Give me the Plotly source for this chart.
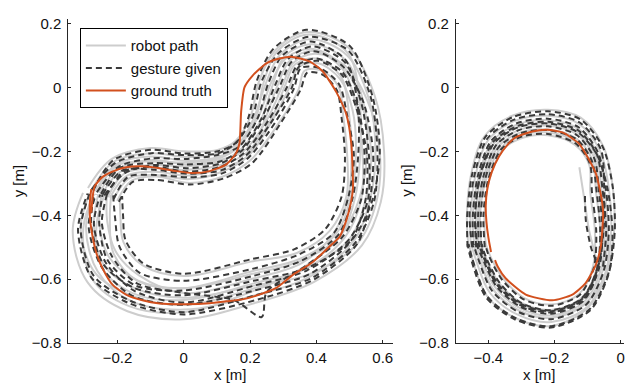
import plotly.graph_objects as go

# ---------------- data ----------------
# Left panel: ground truth path
GT_LEFT_X = [-0.279, -0.269, -0.245, -0.219, -0.174, -0.125, -0.073, -0.023, 0.026, 0.078, 0.128, 0.158, 0.168,
             0.173, 0.183, 0.207, 0.249, 0.289, 0.328, 0.379, 0.418, 0.460, 0.490, 0.505, 0.510, 0.505, 0.490,
             0.470, 0.440, 0.388, 0.328, 0.279, 0.228, 0.177, 0.128, 0.078, 0.007, -0.073, -0.125, -0.174,
             -0.215, -0.245, -0.264, -0.275, -0.283, -0.283, -0.279]
GT_LEFT_Y = [-0.392, -0.310, -0.280, -0.265, -0.250, -0.247, -0.253, -0.262, -0.268, -0.262, -0.241, -0.205,
             -0.175, -0.075, 0.000, 0.036, 0.075, 0.090, 0.095, 0.081, 0.051, -0.015, -0.084, -0.175, -0.316,
             -0.355, -0.416, -0.467, -0.497, -0.547, -0.587, -0.627, -0.648, -0.663, -0.669, -0.675, -0.678,
             -0.676, -0.666, -0.648, -0.617, -0.566, -0.517, -0.467, -0.407, -0.355, -0.318]

# Left panel: robot paths
ROBOT_LEFT_X = [
    [-0.201, -0.157, -0.083, 0.018, 0.118, 0.201, 0.289, 0.346, 0.364, 0.413, 0.466, 0.481, 0.493, 0.490, 0.440, 0.341, 0.202, 0.000, -0.125, -0.182, -0.191, -0.193],
    [-0.223, -0.171, -0.086, 0.014, 0.113, 0.192, 0.267, 0.318, 0.347, 0.405, 0.472, 0.509, 0.519, 0.503, 0.459, 0.351, 0.206, 0.000, -0.140, -0.212, -0.223, -0.219],
    [-0.245, -0.185, -0.090, 0.009, 0.109, 0.174, 0.234, 0.269, 0.303, 0.385, 0.488, 0.542, 0.552, 0.529, 0.472, 0.355, 0.207, 0.000, -0.140, -0.224, -0.255, -0.245],
    [-0.267, -0.203, -0.095, 0.006, 0.106, 0.165, 0.212, 0.248, 0.292, 0.380, 0.492, 0.558, 0.578, 0.561, 0.511, 0.383, 0.216, 0.000, -0.160, -0.260, -0.295, -0.271],
    [-0.289, -0.217, -0.100, 0.001, 0.102, 0.156, 0.201, 0.227, 0.276, 0.373, 0.498, 0.575, 0.604, 0.594, 0.537, 0.393, 0.219, 0.000, -0.170, -0.290, -0.335, -0.304],
    [-0.256, -0.192, -0.093, 0.008, 0.108, 0.180, 0.251, 0.297, 0.330, 0.395, 0.484, 0.553, 0.591, 0.581, 0.524, 0.379, 0.212, 0.000, -0.148, -0.242, -0.271, -0.258],
    [-0.229, -0.178, -0.088, 0.011, 0.111, 0.186, 0.262, 0.304, 0.336, 0.400, 0.474, 0.498, 0.506, 0.496, 0.453, 0.358, 0.209, 0.000, -0.135, -0.206, -0.231, -0.232],
    [-0.278, -0.210, -0.097, 0.004, 0.104, 0.162, 0.223, 0.262, 0.309, 0.390, 0.482, 0.536, 0.565, 0.548, 0.498, 0.369, 0.213, 0.000, -0.155, -0.266, -0.311, -0.284],
    [-0.212, -0.164, -0.084, 0.016, 0.115, 0.192, 0.245, 0.283, 0.320, 0.393, 0.480, 0.520, 0.539, 0.535, 0.485, 0.369, 0.211, 0.000, -0.153, -0.248, -0.263, -0.239],
    [-0.262, -0.199, -0.092, 0.007, 0.107, 0.168, 0.218, 0.241, 0.281, 0.375, 0.494, 0.531, 0.532, 0.516, 0.472, 0.365, 0.214, 0.000, -0.165, -0.278, -0.303, -0.271],
]
ROBOT_LEFT_Y = [
    [-0.355, -0.292, -0.279, -0.299, -0.279, -0.228, -0.108, -0.007, 0.052, 0.053, 0.003, -0.092, -0.218, -0.343, -0.449, -0.518, -0.545, -0.590, -0.556, -0.484, -0.405, -0.339],
    [-0.345, -0.276, -0.264, -0.276, -0.253, -0.216, -0.104, -0.001, 0.064, 0.075, 0.025, -0.072, -0.214, -0.345, -0.458, -0.536, -0.575, -0.628, -0.604, -0.519, -0.415, -0.337],
    [-0.335, -0.260, -0.243, -0.247, -0.232, -0.192, -0.098, 0.010, 0.096, 0.135, 0.085, -0.048, -0.209, -0.349, -0.464, -0.542, -0.583, -0.628, -0.604, -0.533, -0.425, -0.335],
    [-0.325, -0.240, -0.216, -0.230, -0.217, -0.180, -0.094, 0.014, 0.104, 0.150, 0.100, -0.036, -0.205, -0.354, -0.482, -0.590, -0.650, -0.695, -0.668, -0.575, -0.438, -0.333],
    [-0.315, -0.224, -0.190, -0.200, -0.196, -0.168, -0.092, 0.019, 0.116, 0.173, 0.123, -0.024, -0.201, -0.359, -0.494, -0.608, -0.673, -0.725, -0.700, -0.610, -0.450, -0.330],
    [-0.330, -0.252, -0.227, -0.241, -0.227, -0.200, -0.101, 0.004, 0.076, 0.105, 0.070, -0.040, -0.203, -0.357, -0.488, -0.584, -0.620, -0.658, -0.628, -0.554, -0.430, -0.334],
    [-0.343, -0.268, -0.253, -0.258, -0.243, -0.208, -0.103, 0.002, 0.072, 0.090, 0.033, -0.080, -0.216, -0.344, -0.455, -0.548, -0.598, -0.643, -0.588, -0.512, -0.418, -0.336],
    [-0.320, -0.232, -0.206, -0.218, -0.206, -0.176, -0.096, 0.011, 0.092, 0.120, 0.063, -0.052, -0.207, -0.352, -0.476, -0.566, -0.628, -0.680, -0.652, -0.582, -0.443, -0.332],
    [-0.350, -0.284, -0.274, -0.287, -0.264, -0.216, -0.100, 0.007, 0.084, 0.113, 0.055, -0.064, -0.211, -0.350, -0.470, -0.566, -0.613, -0.665, -0.644, -0.561, -0.428, -0.336],
    [-0.328, -0.244, -0.232, -0.235, -0.222, -0.184, -0.095, 0.016, 0.112, 0.165, 0.108, -0.056, -0.212, -0.347, -0.464, -0.560, -0.635, -0.703, -0.684, -0.596, -0.440, -0.333],
]

# Left panel: gesture given
GESTURE_LEFT_X = [
    [-0.196, -0.154, -0.081, 0.019, 0.120, 0.207, 0.294, 0.352, 0.372, 0.418, 0.462, 0.476, 0.486, 0.476, 0.427, 0.334, 0.201, 0.000, -0.123, -0.176, -0.183, -0.186],
    [-0.212, -0.168, -0.084, 0.015, 0.116, 0.195, 0.278, 0.332, 0.353, 0.410, 0.468, 0.492, 0.513, 0.496, 0.453, 0.344, 0.205, 0.000, -0.133, -0.194, -0.207, -0.213],
    [-0.234, -0.182, -0.089, 0.012, 0.112, 0.183, 0.256, 0.311, 0.342, 0.400, 0.478, 0.525, 0.545, 0.535, 0.479, 0.365, 0.250, 0.235, 0.150, 0.000, -0.143, -0.218, -0.247, -0.232],
    [-0.250, -0.192, -0.091, 0.008, 0.109, 0.174, 0.234, 0.276, 0.314, 0.388, 0.486, 0.536, 0.558, 0.555, 0.498, 0.372, 0.212, 0.000, -0.150, -0.236, -0.271, -0.252],
    [-0.278, -0.206, -0.097, 0.003, 0.104, 0.159, 0.207, 0.234, 0.287, 0.378, 0.496, 0.564, 0.584, 0.574, 0.518, 0.386, 0.216, 0.000, -0.160, -0.272, -0.311, -0.284],
    [-0.245, -0.185, -0.087, 0.013, 0.114, 0.189, 0.267, 0.325, 0.347, 0.403, 0.476, 0.520, 0.552, 0.548, 0.505, 0.379, 0.214, 0.000, -0.155, -0.248, -0.287, -0.265],
    [-0.273, -0.213, -0.099, 0.002, 0.103, 0.159, 0.196, 0.220, 0.270, 0.370, 0.500, 0.569, 0.591, 0.568, 0.505, 0.369, 0.210, 0.000, -0.148, -0.242, -0.279, -0.271],
    [-0.262, -0.196, -0.094, 0.005, 0.105, 0.168, 0.223, 0.255, 0.298, 0.383, 0.488, 0.525, 0.526, 0.509, 0.466, 0.355, 0.208, 0.000, -0.145, -0.230, -0.255, -0.245],
    [-0.240, -0.178, -0.090, 0.010, 0.110, 0.177, 0.240, 0.290, 0.325, 0.393, 0.482, 0.542, 0.571, 0.561, 0.524, 0.390, 0.218, 0.000, -0.163, -0.278, -0.319, -0.290],
]
GESTURE_LEFT_Y = [
    [-0.358, -0.296, -0.290, -0.304, -0.285, -0.236, -0.109, -0.008, 0.046, 0.040, -0.010, -0.096, -0.221, -0.341, -0.443, -0.506, -0.538, -0.583, -0.550, -0.477, -0.403, -0.340],
    [-0.350, -0.280, -0.274, -0.281, -0.269, -0.220, -0.106, -0.004, 0.060, 0.060, 0.010, -0.084, -0.215, -0.344, -0.455, -0.524, -0.568, -0.605, -0.580, -0.498, -0.410, -0.338],
    [-0.340, -0.264, -0.248, -0.264, -0.248, -0.204, -0.102, 0.000, 0.068, 0.090, 0.048, -0.060, -0.210, -0.350, -0.467, -0.560, -0.640, -0.718, -0.665, -0.643, -0.612, -0.526, -0.423, -0.336],
    [-0.333, -0.252, -0.237, -0.241, -0.232, -0.192, -0.098, 0.008, 0.088, 0.128, 0.078, -0.052, -0.208, -0.353, -0.476, -0.572, -0.620, -0.673, -0.636, -0.547, -0.430, -0.335],
    [-0.320, -0.236, -0.206, -0.212, -0.206, -0.172, -0.093, 0.017, 0.108, 0.158, 0.115, -0.032, -0.204, -0.356, -0.485, -0.596, -0.650, -0.703, -0.668, -0.589, -0.443, -0.332],
    [-0.335, -0.260, -0.258, -0.270, -0.259, -0.212, -0.104, -0.003, 0.064, 0.083, 0.040, -0.064, -0.209, -0.352, -0.479, -0.584, -0.635, -0.680, -0.652, -0.561, -0.435, -0.334],
    [-0.323, -0.228, -0.195, -0.207, -0.200, -0.172, -0.091, 0.020, 0.120, 0.180, 0.130, -0.028, -0.203, -0.355, -0.479, -0.566, -0.605, -0.650, -0.628, -0.554, -0.433, -0.333],
    [-0.328, -0.248, -0.222, -0.224, -0.211, -0.184, -0.096, 0.013, 0.100, 0.143, 0.085, -0.060, -0.213, -0.346, -0.461, -0.542, -0.590, -0.635, -0.620, -0.540, -0.425, -0.335],
    [-0.338, -0.268, -0.243, -0.253, -0.238, -0.196, -0.099, 0.005, 0.080, 0.113, 0.063, -0.048, -0.206, -0.354, -0.488, -0.602, -0.665, -0.710, -0.676, -0.596, -0.445, -0.332],
]

# Right panel: ground truth
GT_RIGHT_X = [-0.392, -0.400, -0.406, -0.408, -0.403, -0.390, -0.368, -0.345, -0.317, -0.267, -0.222, -0.176,
              -0.126, -0.096, -0.075, -0.066, -0.056, -0.053, -0.055, -0.060, -0.076, -0.106, -0.146, -0.207,
              -0.287, -0.348, -0.372, -0.380]
GT_RIGHT_Y = [-0.515, -0.470, -0.420, -0.370, -0.316, -0.265, -0.216, -0.183, -0.156, -0.138, -0.133, -0.141,
              -0.176, -0.226, -0.270, -0.306, -0.360, -0.397, -0.437, -0.497, -0.557, -0.612, -0.648, -0.666,
              -0.648, -0.597, -0.560, -0.540]

# Right panel: robot paths
ROBOT_RIGHT_X = [
    [-0.407, -0.412, -0.397, -0.357, -0.294, -0.220, -0.138, -0.095, -0.092, -0.078, -0.084, -0.126, -0.210, -0.293, -0.356, -0.397, -0.408],
    [-0.421, -0.425, -0.410, -0.370, -0.302, -0.220, -0.134, -0.085, -0.075, -0.062, -0.072, -0.118, -0.210, -0.299, -0.368, -0.410, -0.422],
    [-0.435, -0.438, -0.423, -0.383, -0.310, -0.220, -0.130, -0.075, -0.058, -0.048, -0.060, -0.110, -0.210, -0.305, -0.380, -0.423, -0.436],
    [-0.453, -0.454, -0.439, -0.399, -0.320, -0.220, -0.125, -0.063, -0.036, -0.029, -0.045, -0.100, -0.210, -0.313, -0.395, -0.439, -0.452],
    [-0.460, -0.465, -0.452, -0.412, -0.328, -0.220, -0.121, -0.053, -0.024, -0.020, -0.042, -0.106, -0.210, -0.307, -0.386, -0.430, -0.445],
    [-0.430, -0.428, -0.406, -0.363, -0.298, -0.220, -0.136, -0.090, -0.066, -0.040, -0.042, -0.098, -0.210, -0.317, -0.404, -0.448, -0.458],
    [-0.125, -0.110, -0.095, -0.078, -0.070, -0.115, -0.210, -0.300, -0.372, -0.415, -0.428, -0.432, -0.415, -0.376, -0.306, -0.220, -0.131, -0.080, -0.065, -0.055, -0.066],
    [-0.442, -0.447, -0.429, -0.389, -0.314, -0.220, -0.128, -0.070, -0.049, -0.040, -0.054, -0.106, -0.210, -0.308, -0.386, -0.429, -0.443],
]
ROBOT_RIGHT_Y = [
    [-0.500, -0.400, -0.288, -0.195, -0.157, -0.150, -0.180, -0.243, -0.328, -0.450, -0.562, -0.646, -0.679, -0.658, -0.597, -0.522, -0.490],
    [-0.500, -0.400, -0.284, -0.185, -0.141, -0.132, -0.160, -0.229, -0.324, -0.450, -0.566, -0.658, -0.696, -0.674, -0.611, -0.526, -0.490],
    [-0.500, -0.400, -0.280, -0.175, -0.125, -0.113, -0.140, -0.215, -0.320, -0.450, -0.570, -0.670, -0.713, -0.690, -0.625, -0.530, -0.490],
    [-0.500, -0.400, -0.275, -0.163, -0.105, -0.089, -0.115, -0.198, -0.315, -0.450, -0.575, -0.685, -0.734, -0.710, -0.643, -0.535, -0.490],
    [-0.500, -0.400, -0.271, -0.153, -0.089, -0.070, -0.095, -0.184, -0.312, -0.450, -0.576, -0.676, -0.720, -0.698, -0.632, -0.532, -0.490],
    [-0.500, -0.400, -0.285, -0.190, -0.149, -0.141, -0.170, -0.236, -0.322, -0.450, -0.576, -0.688, -0.746, -0.722, -0.653, -0.538, -0.490],
    [-0.250, -0.350, -0.450, -0.520, -0.567, -0.662, -0.700, -0.680, -0.617, -0.528, -0.500, -0.400, -0.283, -0.180, -0.133, -0.120, -0.148, -0.220, -0.322, -0.450, -0.568],
    [-0.500, -0.400, -0.278, -0.170, -0.117, -0.103, -0.130, -0.208, -0.318, -0.450, -0.572, -0.676, -0.721, -0.698, -0.632, -0.532, -0.490],
]

# Right panel: gesture given
GESTURE_RIGHT_X = [
    [-0.411, -0.415, -0.400, -0.360, -0.296, -0.220, -0.137, -0.093, -0.087, -0.074, -0.081, -0.124, -0.210, -0.295, -0.359, -0.400, -0.410],
    [-0.428, -0.431, -0.416, -0.376, -0.306, -0.220, -0.132, -0.080, -0.066, -0.055, -0.066, -0.114, -0.210, -0.302, -0.374, -0.416, -0.429],
    [-0.446, -0.447, -0.432, -0.392, -0.316, -0.220, -0.127, -0.068, -0.045, -0.036, -0.051, -0.104, -0.210, -0.310, -0.389, -0.432, -0.445],
    [-0.463, -0.464, -0.449, -0.409, -0.326, -0.220, -0.122, -0.054, -0.024, -0.018, -0.036, -0.094, -0.210, -0.317, -0.404, -0.448, -0.460],
    [-0.437, -0.440, -0.425, -0.383, -0.310, -0.220, -0.130, -0.072, -0.040, -0.025, -0.035, -0.092, -0.210, -0.319, -0.407, -0.452, -0.463],
    [-0.449, -0.457, -0.442, -0.403, -0.322, -0.220, -0.124, -0.060, -0.050, -0.052, -0.070, -0.116, -0.210, -0.300, -0.371, -0.413, -0.425],
    [-0.108, -0.105, -0.090, -0.070, -0.112, -0.210, -0.303, -0.376, -0.420, -0.432, -0.440, -0.426, -0.387, -0.312, -0.220, -0.128, -0.072, -0.055, -0.044, -0.055],
    [-0.421, -0.423, -0.409, -0.368, -0.301, -0.220, -0.134, -0.087, -0.073, -0.062, -0.071, -0.117, -0.210, -0.300, -0.367, -0.409, -0.420],
]
GESTURE_RIGHT_Y = [
    [-0.500, -0.400, -0.287, -0.192, -0.153, -0.146, -0.175, -0.239, -0.327, -0.450, -0.563, -0.649, -0.683, -0.662, -0.601, -0.523, -0.490],
    [-0.500, -0.400, -0.282, -0.180, -0.133, -0.122, -0.150, -0.222, -0.322, -0.450, -0.568, -0.664, -0.704, -0.682, -0.618, -0.528, -0.490],
    [-0.500, -0.400, -0.277, -0.168, -0.113, -0.098, -0.125, -0.205, -0.317, -0.450, -0.573, -0.679, -0.725, -0.702, -0.636, -0.533, -0.490],
    [-0.500, -0.400, -0.272, -0.155, -0.093, -0.075, -0.100, -0.187, -0.312, -0.450, -0.578, -0.694, -0.747, -0.722, -0.653, -0.538, -0.490],
    [-0.500, -0.400, -0.280, -0.175, -0.125, -0.113, -0.140, -0.210, -0.316, -0.450, -0.578, -0.697, -0.751, -0.726, -0.657, -0.539, -0.490],
    [-0.500, -0.400, -0.274, -0.160, -0.101, -0.084, -0.110, -0.194, -0.318, -0.450, -0.567, -0.661, -0.700, -0.678, -0.615, -0.527, -0.490],
    [-0.340, -0.420, -0.500, -0.566, -0.667, -0.708, -0.686, -0.622, -0.529, -0.500, -0.400, -0.279, -0.172, -0.121, -0.108, -0.135, -0.210, -0.319, -0.450, -0.572],
    [-0.500, -0.400, -0.284, -0.186, -0.143, -0.134, -0.162, -0.231, -0.324, -0.450, -0.566, -0.659, -0.697, -0.675, -0.610, -0.527, -0.490],
]

X_TICKS_LEFT = [-0.2, 0, 0.2, 0.4, 0.6]
X_TICKS_RIGHT = [-0.4, -0.2, 0]
Y_TICKS = [-0.8, -0.6, -0.4, -0.2, 0, 0.2]

# ---------------- styling ----------------
ROBOT_COLOR = "#cdcdcd"
GESTURE_COLOR = "#3a3a3a"
GT_COLOR = "#d2501e"
AXIS_COLOR = "#262626"
FONT = "Liberation Sans, Arial, Helvetica, sans-serif"

W, H = 631, 389


def px_x(p):
    return min(1.0, max(0.0, p / W))


def px_y(p):
    return min(1.0, max(0.0, 1 - p / H))


def fmt(v):
    if abs(v) < 1e-9:
        return "0"
    return f"{v:.1f}".replace("-", "\u2212")


fig = go.Figure()

panels = [
    ("x", "y", ROBOT_LEFT_X, ROBOT_LEFT_Y, GESTURE_LEFT_X, GESTURE_LEFT_Y, GT_LEFT_X, GT_LEFT_Y, True),
    ("x2", "y2", ROBOT_RIGHT_X, ROBOT_RIGHT_Y, GESTURE_RIGHT_X, GESTURE_RIGHT_Y, GT_RIGHT_X, GT_RIGHT_Y, False),
]

for xa, ya, rx, ry, gx, gy, tx, ty, leg in panels:
    for i, (px, py) in enumerate(zip(rx, ry)):
        fig.add_trace(go.Scatter(
            x=px, y=py, mode="lines", xaxis=xa, yaxis=ya,
            line=dict(color=ROBOT_COLOR, width=2, shape="spline", smoothing=1.0),
            name="robot path", legendrank=1,
            showlegend=(leg and i == 0), hoverinfo="skip"))
for xa, ya, rx, ry, gx, gy, tx, ty, leg in panels:
    for i, (px, py) in enumerate(zip(gx, gy)):
        fig.add_trace(go.Scatter(
            x=px, y=py, mode="lines", xaxis=xa, yaxis=ya,
            line=dict(color=GESTURE_COLOR, width=2, dash="6px,4px", shape="spline", smoothing=0.8),
            name="gesture given", legendrank=2,
            showlegend=(leg and i == 0), hoverinfo="skip"))
for xa, ya, rx, ry, gx, gy, tx, ty, leg in panels:
    fig.add_trace(go.Scatter(
        x=tx, y=ty, mode="lines", xaxis=xa, yaxis=ya,
        line=dict(color=GT_COLOR, width=2, shape="spline", smoothing=0.6),
        name="ground truth", legendrank=3,
        showlegend=leg, hoverinfo="skip"))

axis_common = dict(
    showline=True, linecolor=AXIS_COLOR, linewidth=1, mirror=False,
    ticks="inside", ticklen=3, tickwidth=1, tickcolor=AXIS_COLOR,
    showgrid=False, zeroline=False, fixedrange=True,
    tickfont=dict(family=FONT, size=15, color="#111111"),
)

fig.update_layout(
    width=W, height=H, autosize=False,
    margin=dict(l=0, r=0, t=0, b=0),
    paper_bgcolor="white", plot_bgcolor="white",
    font=dict(family=FONT, size=15, color="#111111"),
    hovermode=False,
    xaxis=dict(domain=[px_x(68.5), px_x(394)], range=[-0.348, 0.632], anchor="y",
               tickvals=X_TICKS_LEFT, ticktext=[fmt(v) for v in X_TICKS_LEFT],
               ticklabelstandoff=1, **axis_common),
    yaxis=dict(domain=[px_y(350), px_y(15)], range=[-0.8, 0.215], anchor="x",
               tickvals=Y_TICKS, ticktext=[fmt(v) for v in Y_TICKS],
               ticklabelstandoff=3, **axis_common),
    xaxis2=dict(domain=[px_x(456.7), px_x(625)], range=[-0.498, 0.01], anchor="y2",
                tickvals=X_TICKS_RIGHT, ticktext=[fmt(v) for v in X_TICKS_RIGHT],
                ticklabelstandoff=1, **axis_common),
    yaxis2=dict(domain=[px_y(350), px_y(15)], range=[-0.8, 0.215], anchor="x2",
                tickvals=Y_TICKS, ticktext=[fmt(v) for v in Y_TICKS],
                ticklabelstandoff=3, **axis_common),
    legend=dict(x=px_x(80), y=px_y(25), xanchor="left", yanchor="top",
                bgcolor="white", bordercolor="#000000", borderwidth=1,
                font=dict(family=FONT, size=15, color="#111111"),
                tracegroupgap=0, itemwidth=40),
    showlegend=True,
)

annotations = [
    dict(text="x [m]", x=px_x((68.5 + 394) / 2), y=px_y(382)),
    dict(text="x [m]", x=px_x((456.7 + 625) / 2), y=px_y(382)),
    dict(text="y [m]", x=px_x(18), y=px_y(182), textangle=-90),
    dict(text="y [m]", x=px_x(407), y=px_y(182), textangle=-90),
]
for a in annotations:
    fig.add_annotation(xref="paper", yref="paper", showarrow=False,
                       xanchor="center", yanchor="middle",
                       font=dict(family=FONT, size=15, color="#111111"), **a)

# remove the browser's default 8 px body margin so the 631x389 figure fills the window exactly
fig.write_html("out.html", config={"displayModeBar": False, "staticPlot": True},
               post_script="document.body.style.margin='0px';")
